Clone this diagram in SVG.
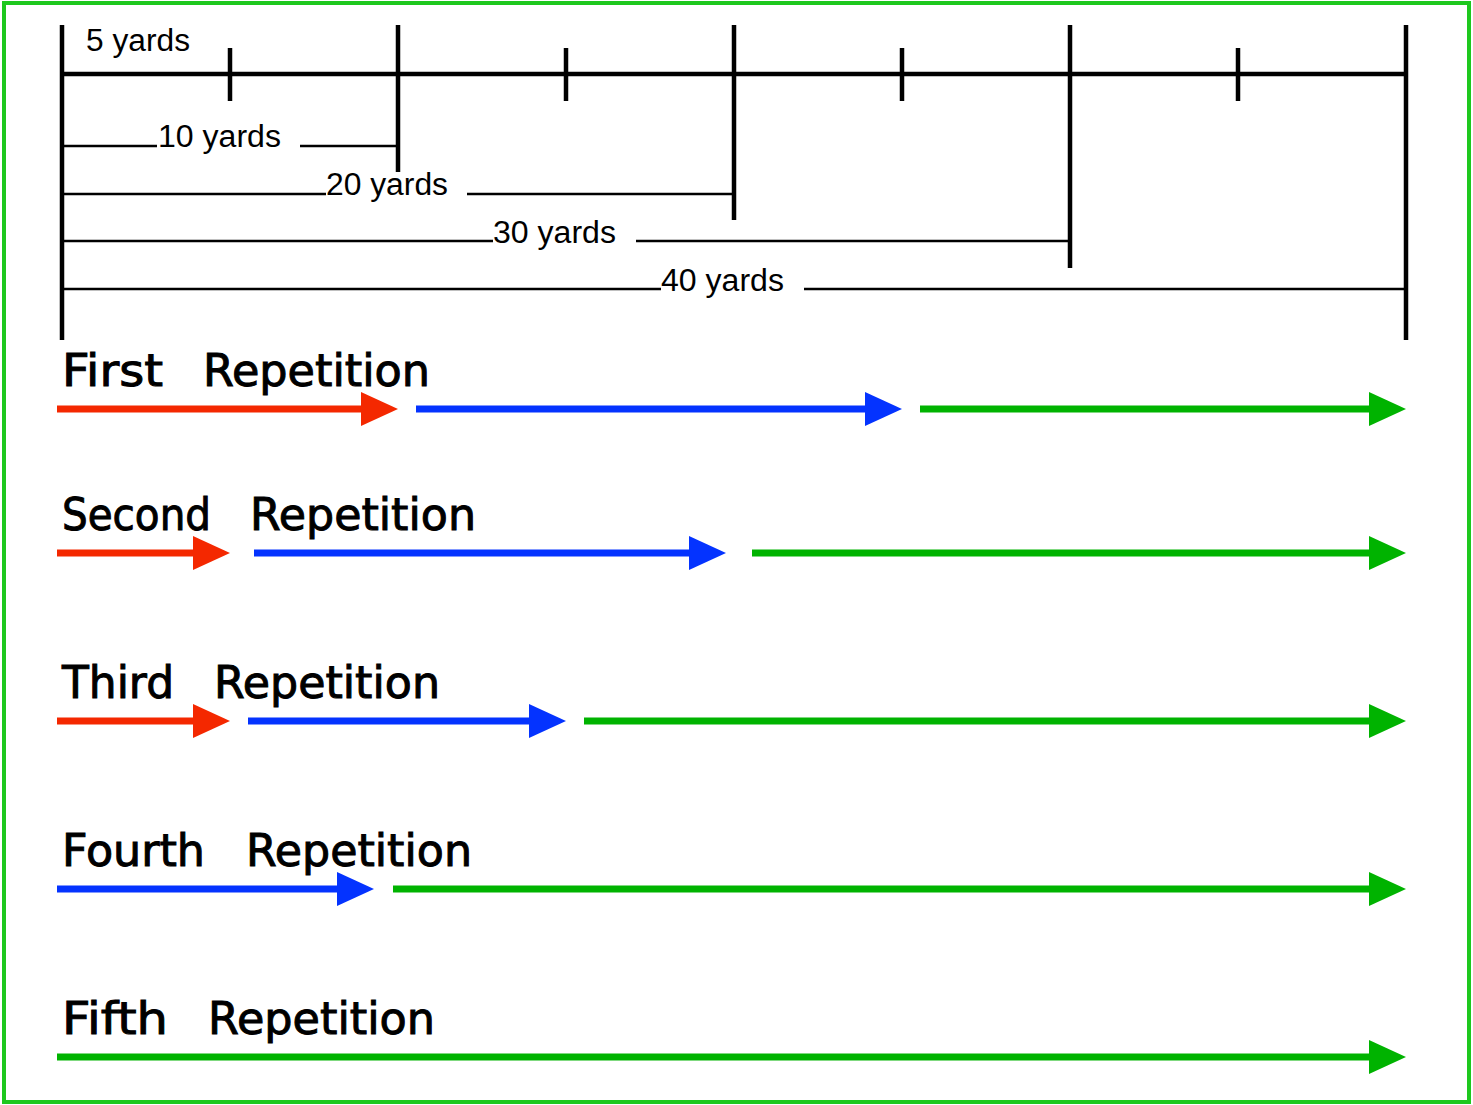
<svg xmlns="http://www.w3.org/2000/svg" width="1473" height="1105" viewBox="0 0 1473 1105">
<style>
.ruler{stroke:#000;stroke-width:4.5;fill:none}
.dim{stroke:#000;stroke-width:2.5;fill:none}
.lbl{font-family:"Liberation Sans",Arial,sans-serif;font-size:31px;fill:#000}
.title{font-family:"Comic Sans MS","DejaVu Sans",sans-serif;font-size:44px;fill:#000;stroke:#000;stroke-width:1}
.r{stroke:#f42800;stroke-width:7;fill:none}
.b{stroke:#0433ff;stroke-width:7;fill:none}
.g{stroke:#00b300;stroke-width:7;fill:none}
</style>
<defs>
<marker id="hr" markerUnits="userSpaceOnUse" markerWidth="38" markerHeight="34" refX="7" refY="17" orient="auto"><path d="M0,0 L37,17 L0,34 Z" fill="#f42800"/></marker>
<marker id="hb" markerUnits="userSpaceOnUse" markerWidth="38" markerHeight="34" refX="7" refY="17" orient="auto"><path d="M0,0 L37,17 L0,34 Z" fill="#0433ff"/></marker>
<marker id="hg" markerUnits="userSpaceOnUse" markerWidth="38" markerHeight="34" refX="7" refY="17" orient="auto"><path d="M0,0 L37,17 L0,34 Z" fill="#00b300"/></marker>
</defs>
<rect x="0" y="0" width="1473" height="1105" fill="#fff"/>
<rect x="4" y="3" width="1465" height="1099" fill="none" stroke="#1ec81e" stroke-width="4"/>
<g id="ruler">
<line class="ruler" x1="62" y1="74" x2="1406" y2="74"/>
<line class="ruler" x1="62" y1="25" x2="62" y2="340"/>
<line class="ruler" x1="398" y1="25" x2="398" y2="172"/>
<line class="ruler" x1="734" y1="25" x2="734" y2="220"/>
<line class="ruler" x1="1070" y1="25" x2="1070" y2="268"/>
<line class="ruler" x1="1406" y1="25" x2="1406" y2="340"/>
<line class="ruler" x1="230" y1="48" x2="230" y2="101"/>
<line class="ruler" x1="566" y1="48" x2="566" y2="101"/>
<line class="ruler" x1="902" y1="48" x2="902" y2="101"/>
<line class="ruler" x1="1238" y1="48" x2="1238" y2="101"/>
<line class="dim" x1="62" y1="146" x2="157" y2="146"/>
<line class="dim" x1="300" y1="146" x2="398" y2="146"/>
<line class="dim" x1="62" y1="194" x2="326" y2="194"/>
<line class="dim" x1="467" y1="194" x2="734" y2="194"/>
<line class="dim" x1="62" y1="241" x2="493" y2="241"/>
<line class="dim" x1="636" y1="241" x2="1070" y2="241"/>
<line class="dim" x1="62" y1="289" x2="661" y2="289"/>
<line class="dim" x1="804" y1="289" x2="1406" y2="289"/>
<text class="lbl" x="86" y="51" textLength="104" lengthAdjust="spacingAndGlyphs">5 yards</text>
<text class="lbl" x="158" y="147" textLength="123" lengthAdjust="spacingAndGlyphs">10 yards</text>
<text class="lbl" x="326" y="195" textLength="122" lengthAdjust="spacingAndGlyphs">20 yards</text>
<text class="lbl" x="493" y="243" textLength="123" lengthAdjust="spacingAndGlyphs">30 yards</text>
<text class="lbl" x="661" y="291" textLength="123" lengthAdjust="spacingAndGlyphs">40 yards</text>
</g>
<g id="rep1">
<text class="title" y="386"><tspan x="62" textLength="101" lengthAdjust="spacingAndGlyphs">First</tspan><tspan x="203" textLength="227" lengthAdjust="spacingAndGlyphs">Repetition</tspan></text>
</g>
<g id="rep2">
<text class="title" y="530"><tspan x="62" textLength="149" lengthAdjust="spacingAndGlyphs">Second</tspan><tspan x="250" textLength="226" lengthAdjust="spacingAndGlyphs">Repetition</tspan></text>
</g>
<g id="rep3">
<text class="title" y="698"><tspan x="62" textLength="112" lengthAdjust="spacingAndGlyphs">Third</tspan><tspan x="214" textLength="226" lengthAdjust="spacingAndGlyphs">Repetition</tspan></text>
</g>
<g id="rep4">
<text class="title" y="866"><tspan x="62" textLength="143" lengthAdjust="spacingAndGlyphs">Fourth</tspan><tspan x="246" textLength="226" lengthAdjust="spacingAndGlyphs">Repetition</tspan></text>
</g>
<g id="rep5">
<text class="title" y="1034"><tspan x="62" textLength="106" lengthAdjust="spacingAndGlyphs">Fifth</tspan><tspan x="208" textLength="227" lengthAdjust="spacingAndGlyphs">Repetition</tspan></text>
</g>
<g id="connectors">
<line class="r" x1="57" y1="409" x2="368" y2="409" marker-end="url(#hr)"/>
<line class="b" x1="416" y1="409" x2="872" y2="409" marker-end="url(#hb)"/>
<line class="g" x1="920" y1="409" x2="1376" y2="409" marker-end="url(#hg)"/>
<line class="r" x1="57" y1="553" x2="200" y2="553" marker-end="url(#hr)"/>
<line class="b" x1="254" y1="553" x2="696" y2="553" marker-end="url(#hb)"/>
<line class="g" x1="752" y1="553" x2="1376" y2="553" marker-end="url(#hg)"/>
<line class="r" x1="57" y1="721" x2="200" y2="721" marker-end="url(#hr)"/>
<line class="b" x1="248" y1="721" x2="536" y2="721" marker-end="url(#hb)"/>
<line class="g" x1="584" y1="721" x2="1376" y2="721" marker-end="url(#hg)"/>
<line class="b" x1="57" y1="889" x2="344" y2="889" marker-end="url(#hb)"/>
<line class="g" x1="393" y1="889" x2="1376" y2="889" marker-end="url(#hg)"/>
<line class="g" x1="57" y1="1057" x2="1376" y2="1057" marker-end="url(#hg)"/>
</g>
</svg>
